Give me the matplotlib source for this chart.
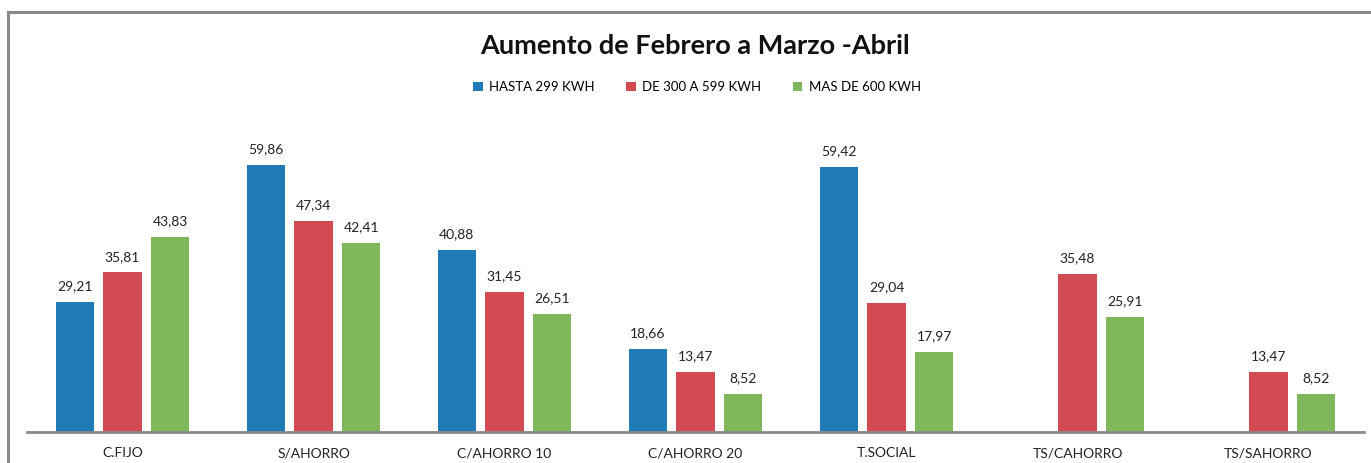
import matplotlib
matplotlib.use("Agg")
import matplotlib.pyplot as plt
import numpy as np
from matplotlib.patches import Rectangle

categories = ["C.FIJO", "S/AHORRO", "C/AHORRO 10", "C/AHORRO 20", "T.SOCIAL", "TS/CAHORRO", "TS/SAHORRO"]
series_names = ["HASTA 299 KWH", "DE 300 A 599 KWH", "MAS DE 600 KWH"]
hasta_299 = [29.21, 59.86, 40.88, 18.66, 59.42, None, None]
de_300_599 = [35.81, 47.34, 31.45, 13.47, 29.04, 35.48, 13.47]
mas_600 = [43.83, 42.41, 26.51, 8.52, 17.97, 25.91, 8.52]
colors = ["#1f7ab5", "#d34a53", "#7eb85a"]

plt.rcParams['font.family'] = ['Lato', 'DejaVu Sans']

W, H = 1371, 463
fig = plt.figure(figsize=(W/100, H/100), dpi=100)

# outer chart border (cropped at right/bottom)
fig.patches.append(Rectangle((8/W, -0.1), 2.0, 1 - 12/H + 0.1, transform=fig.transFigure,
                             fill=False, edgecolor="#8a8a8a", linewidth=2.2))

ax_left, ax_right = 27/W, 1364/W
ax_bottom, ax_top = 1 - 432/H, 1 - 120/H
ax = fig.add_axes([ax_left, ax_bottom, ax_right - ax_left, ax_top - ax_bottom])

x = np.arange(len(categories))
bw = 0.2
step = 0.25
for i, (vals, c, name) in enumerate(zip([hasta_299, de_300_599, mas_600], colors, series_names)):
    xs = [xi + (i - 1) * step for xi, v in zip(x, vals) if v is not None]
    vs = [v for v in vals if v is not None]
    ax.bar(xs, vs, width=bw, color=c, label=name)
    for xx, v in zip(xs, vs):
        ax.annotate(f"{v:.2f}".replace(".", ","), (xx, v), xytext=(0, 7), textcoords="offset points",
                    ha="center", va="bottom", fontsize=10, color="#222222")

ax.set_xlim(-0.5, len(categories) - 0.5)
ax.set_ylim(0, 70)
ax.set_yticks([])
ax.set_xticks(x)
ax.set_xticklabels(categories, fontsize=10, color="#222222")
ax.tick_params(axis="x", length=0, pad=11)
for s in ["top", "right", "left"]:
    ax.spines[s].set_visible(False)
ax.spines["bottom"].set_color("#8a8a8a")
ax.spines["bottom"].set_linewidth(2)

fig.text(695/W, 1 - 46/H, "Aumento de Febrero a Marzo -Abril", ha="center", va="center",
         fontsize=19.5, fontweight="bold", color="#111111")

fig.legend(loc="center", bbox_to_anchor=(697/W, 1 - 87/H), ncol=3, frameon=False,
           fontsize=9.5, handlelength=0.7, handleheight=0.7, columnspacing=2.4, handletextpad=0.5)

fig.savefig("out.png", dpi=100)
